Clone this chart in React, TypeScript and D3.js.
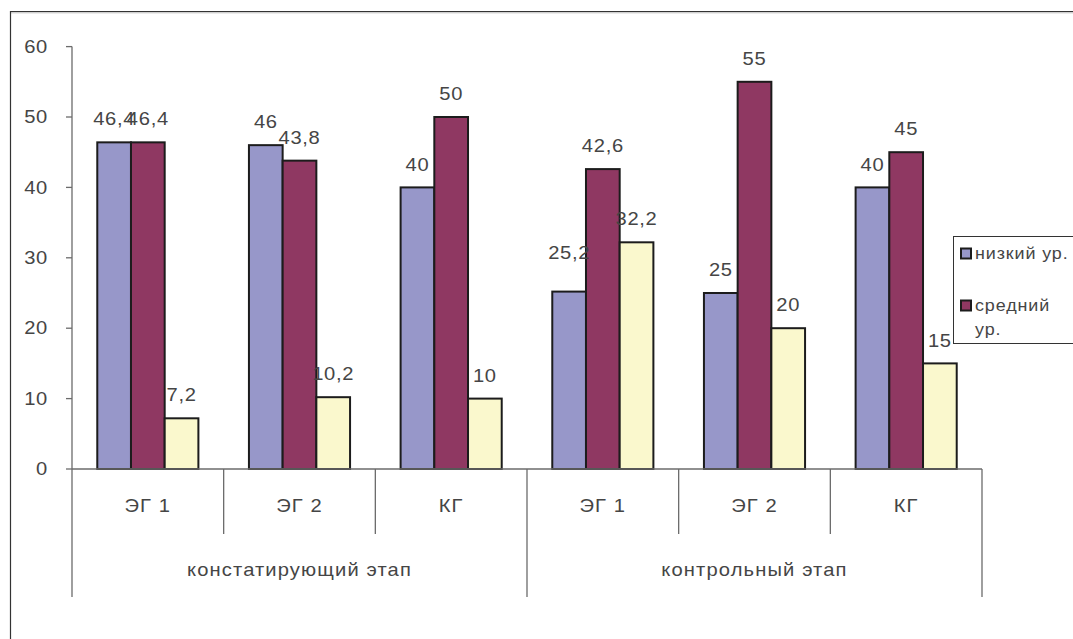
import React from "react";
import * as d3 from "d3";

// Survey results: share of pupils by level, per group and stage
const stages = ["констатирующий этап", "контрольный этап"];
const groups = ["ЭГ 1", "ЭГ 2", "КГ"];
const seriesNames = ["низкий ур.", "средний ур.", "высокий ур."];
const lowLevel = [46.4, 46, 40, 25.2, 25, 40];
const midLevel = [46.4, 43.8, 50, 42.6, 55, 45];
const highLevel = [7.2, 10.2, 10, 32.2, 20, 15];
const yTicks = [0, 10, 20, 30, 40, 50, 60];

const seriesColors = ["#9797c9", "#8f3862", "#faf8cd"];

const W = 1073;
const H = 639;
const plotLeft = 72;
const plotRight = 982;
const plotTop = 46.6;
const plotBottom = 469;
const tickEnd = 534;
const stageEnd = 597;
const FONT = "'Liberation Sans', Arial, sans-serif";
const TEXT = "#454545";
const AXIS = "#6b6b6b";

const fmt = (v: number) => String(v).replace(".", ",");

// Text drawn slightly widened, like the old GDI chart renderer
function T({
  x,
  y,
  children,
  anchor = "start",
  size = 18,
  sx = 1.12,
  ls = 0.6,
}: {
  x: number;
  y: number;
  children: React.ReactNode;
  anchor?: "start" | "middle" | "end";
  size?: number;
  sx?: number;
  ls?: number;
}) {
  return (
    <text
      transform={`translate(${x},${y}) scale(${sx},1)`}
      textAnchor={anchor}
      dominantBaseline="central"
      fontSize={size}
      fill={TEXT}
      letterSpacing={ls}
    >
      {children}
    </text>
  );
}

export default function App() {
  const categories = stages.flatMap((s) => groups.map((g) => `${s}|${g}`));
  const values = [lowLevel, midLevel, highLevel];

  const x = d3.scaleBand<string>().domain(categories).range([plotLeft, plotRight]).padding(0);
  const bw = x.bandwidth();
  const xs = d3
    .scaleBand<number>()
    .domain([0, 1, 2])
    .range([bw / 6, (bw * 5) / 6])
    .padding(0);
  const y = d3.scaleLinear().domain([0, 60]).range([plotBottom, plotTop]);

  // label lifted a bit higher where it would collide with a neighbour
  const labelLift: Record<string, number> = { "3-0": 16 };

  const stageSpan = groups.length * bw;

  return (
    <div style={{ position: "absolute", left: 0, top: 0 }}>
      <svg width={W} height={H} style={{ display: "block", background: "#fff" }} fontFamily={FONT}>
        {/* outer frame */}
        <line x1={10.5} y1={11.5} x2={W} y2={11.5} stroke="#333" strokeWidth={1.2} />
        <line x1={10} y1={12.8} x2={W} y2={12.8} stroke="#bbb" strokeWidth={1} />
        <line x1={10.5} y1={11} x2={10.5} y2={H} stroke="#333" strokeWidth={1.2} />

        {/* value axis */}
        <line x1={plotLeft} y1={plotTop} x2={plotLeft} y2={stageEnd} stroke={AXIS} strokeWidth={1.3} />
        {yTicks.map((t) => (
          <g key={t}>
            <line x1={plotLeft - 6} x2={plotLeft} y1={y(t)} y2={y(t)} stroke={AXIS} strokeWidth={1.3} />
            <T x={48} y={y(t)} anchor="end">
              {t}
            </T>
          </g>
        ))}

        {/* bars */}
        {categories.map((c, ci) =>
          values.map((vals, si) => {
            const v = vals[ci];
            const bx = (x(c) as number) + (xs(si) as number);
            return (
              <rect
                key={`${ci}-${si}`}
                x={bx}
                y={y(v)}
                width={xs.bandwidth()}
                height={plotBottom - y(v)}
                fill={seriesColors[si]}
                stroke="#1c1c1c"
                strokeWidth={2}
              />
            );
          })
        )}

        {/* category axis */}
        <line x1={plotLeft} y1={plotBottom} x2={plotRight} y2={plotBottom} stroke={AXIS} strokeWidth={1.3} />
        {categories.map((c, ci) => {
          const x0 = x(c) as number;
          return (
            <g key={c}>
              {ci % groups.length !== 0 && (
                <line x1={x0} x2={x0} y1={plotBottom} y2={tickEnd} stroke={AXIS} strokeWidth={1.3} />
              )}
              <T x={x0 + bw / 2} y={506} anchor="middle" ls={1}>
                {c.split("|")[1]}
              </T>
            </g>
          );
        })}
        {stages.map((s, i) => {
          const x0 = plotLeft + i * stageSpan;
          return (
            <g key={s}>
              <line x1={x0 + stageSpan} x2={x0 + stageSpan} y1={plotBottom} y2={stageEnd} stroke={AXIS} strokeWidth={1.3} />
              <T x={x0 + stageSpan / 2} y={570} anchor="middle" ls={1}>
                {s}
              </T>
            </g>
          );
        })}

        {/* value labels */}
        {categories.map((c, ci) =>
          values.map((vals, si) => {
            const v = vals[ci];
            const cx = (x(c) as number) + (xs(si) as number) + xs.bandwidth() / 2;
            const lift = labelLift[`${ci}-${si}`] || 0;
            return (
              <T key={`l-${ci}-${si}`} x={cx} y={y(v) - 23 - lift} anchor="middle">
                {fmt(v)}
              </T>
            );
          })
        )}

        {/* legend */}
        <rect x={953.5} y={236.5} width={150} height={107} fill="#fff" stroke="#333" strokeWidth={1} />
        {[0, 1].map((i) => {
          const cy = i === 0 ? 253.5 : 305.5;
          return (
            <g key={i}>
              <rect x={961} y={cy - 5} width={10} height={10} fill={seriesColors[i]} stroke="#1c1c1c" strokeWidth={2} />
              <T x={975} y={cy} size={16} sx={1.12} ls={0.8}>
                {i === 0 ? seriesNames[0] : "средний"}
              </T>
              {i === 1 && (
                <T x={975} y={330} size={16} sx={1.12} ls={0.8}>
                  ур.
                </T>
              )}
            </g>
          );
        })}
      </svg>
    </div>
  );
}
